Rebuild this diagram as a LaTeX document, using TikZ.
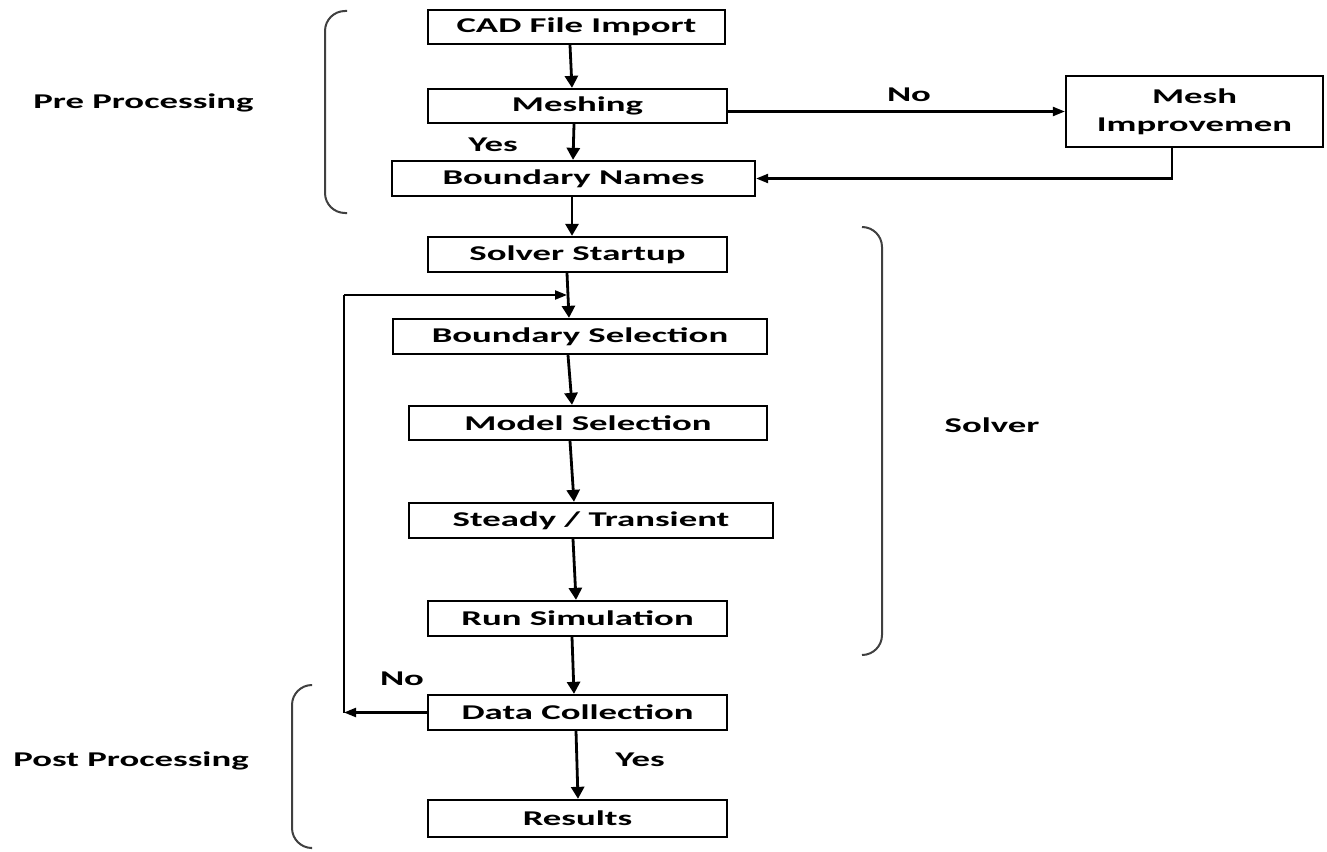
\documentclass[tikz,border=0pt]{standalone}
\usepackage{fontspec}
\setmainfont{Carlito}[FakeStretch=1.75]
\usetikzlibrary{arrows.meta}
\newcommand{\lbl}{\fontsize{21}{28}\selectfont\bfseries}
\begin{document}
\begin{tikzpicture}[x=1pt,y=-1pt,
  box/.style={draw,line width=2.3pt,minimum height=35pt,inner sep=0pt,font=\lbl,align=center},
  txt/.style={inner sep=0pt,font=\lbl},
  varrow/.style={line width=2.8pt,-{Triangle[length=12pt,width=13pt]}},
  harrow/.style={line width=2.2pt,-{Triangle[length=12pt,width=9pt]}},
  hline/.style={line width=2.2pt},
  brace/.style={line width=2pt,draw=black!75,rounded corners=20pt}]
\useasboundingbox (0,0) rectangle (1327,851);
\node[box,minimum width=297pt,minimum height=34pt] (cad) at (576.5,27) {CAD File Import};
\node[box,minimum width=299pt,minimum height=34pt] (mesh) at (577.5,106) {Meshing};
\node[box,minimum width=363pt] (bn) at (573.5,178.5) {Boundary Names};
\node[box,minimum width=257pt,minimum height=71pt] (mi) at (1194.5,111.5) {Mesh\\Improvemen};
\node[box,minimum width=299pt] (ss) at (577.5,254.5) {Solver Startup};
\node[box,minimum width=374pt] (bs) at (580,336.5) {Boundary Selection};
\node[box,minimum width=358pt,minimum height=34pt] (ms) at (588,423) {Model Selection};
\node[box,minimum width=364pt] (st) at (591,520.5) {Steady / Transient};
\node[box,minimum width=299pt] (rs) at (577.5,618.5) {Run Simulation};
\node[box,minimum width=299pt] (dc) at (577.5,712.5) {Data Collection};
\node[box,minimum width=299pt,minimum height=37pt] (res) at (577.5,818.5) {Results};

\node[txt] (no1) at (909,95) {No};
\node[txt] (yes1) at (493,145) {Yes};
\node[txt] (no2) at (402,679) {No};
\node[txt] (yes2) at (640,760) {Yes};
\node[txt] (solver) at (992,425) {Solver};
\node[txt] (pre) at (143.5,103) {Pre Processing};
\node[txt] (post) at (131,761) {Post Processing};

\draw[varrow] ([xshift=-6.5pt]cad.south) -- ([xshift=-5.5pt]mesh.north);
\draw[varrow] ([xshift=-3.5pt]mesh.south) -- ([xshift=-0.5pt]bn.north);
\draw[varrow] ([xshift=-1.5pt]bn.south) -- ([xshift=-5.5pt]ss.north);
\draw[varrow] ([xshift=-10.5pt]ss.south) -- ([xshift=-11pt]bs.north);
\draw[varrow] ([xshift=-12pt]bs.south) -- ([xshift=-16pt]ms.north);
\draw[varrow] ([xshift=-18pt]ms.south) -- ([xshift=-17pt]st.north);
\draw[varrow] ([xshift=-18pt]st.south) -- ([xshift=-1.5pt]rs.north);
\draw[varrow] ([xshift=-5.5pt]rs.south) -- ([xshift=-3.5pt]dc.north);
\draw[varrow] ([xshift=-1.5pt]dc.south) -- ([xshift=0.5pt]res.north);

\draw[harrow] (mesh.east |- mi.west) -- (mi.west);
\draw[harrow] ([xshift=-22.5pt]mi.south) |- (bn.east);

\coordinate (lc) at (344,712.5);
\coordinate (lt) at (344,295);
\coordinate (lend) at (567,295);
\draw[harrow] (dc.west) -- (lc);
\draw[hline] (lc) -- (lt);
\draw[harrow] (lt) -- (lend);

\draw[brace] (347,11) -- (325,11) -- (325,213) -- (347,213);
\draw[brace] (862,227) -- (882,227) -- (882,655) -- (862,655);
\draw[brace] (311,685) -- (292,685) -- (292,848) -- (311,848);
\end{tikzpicture}
\end{document}
